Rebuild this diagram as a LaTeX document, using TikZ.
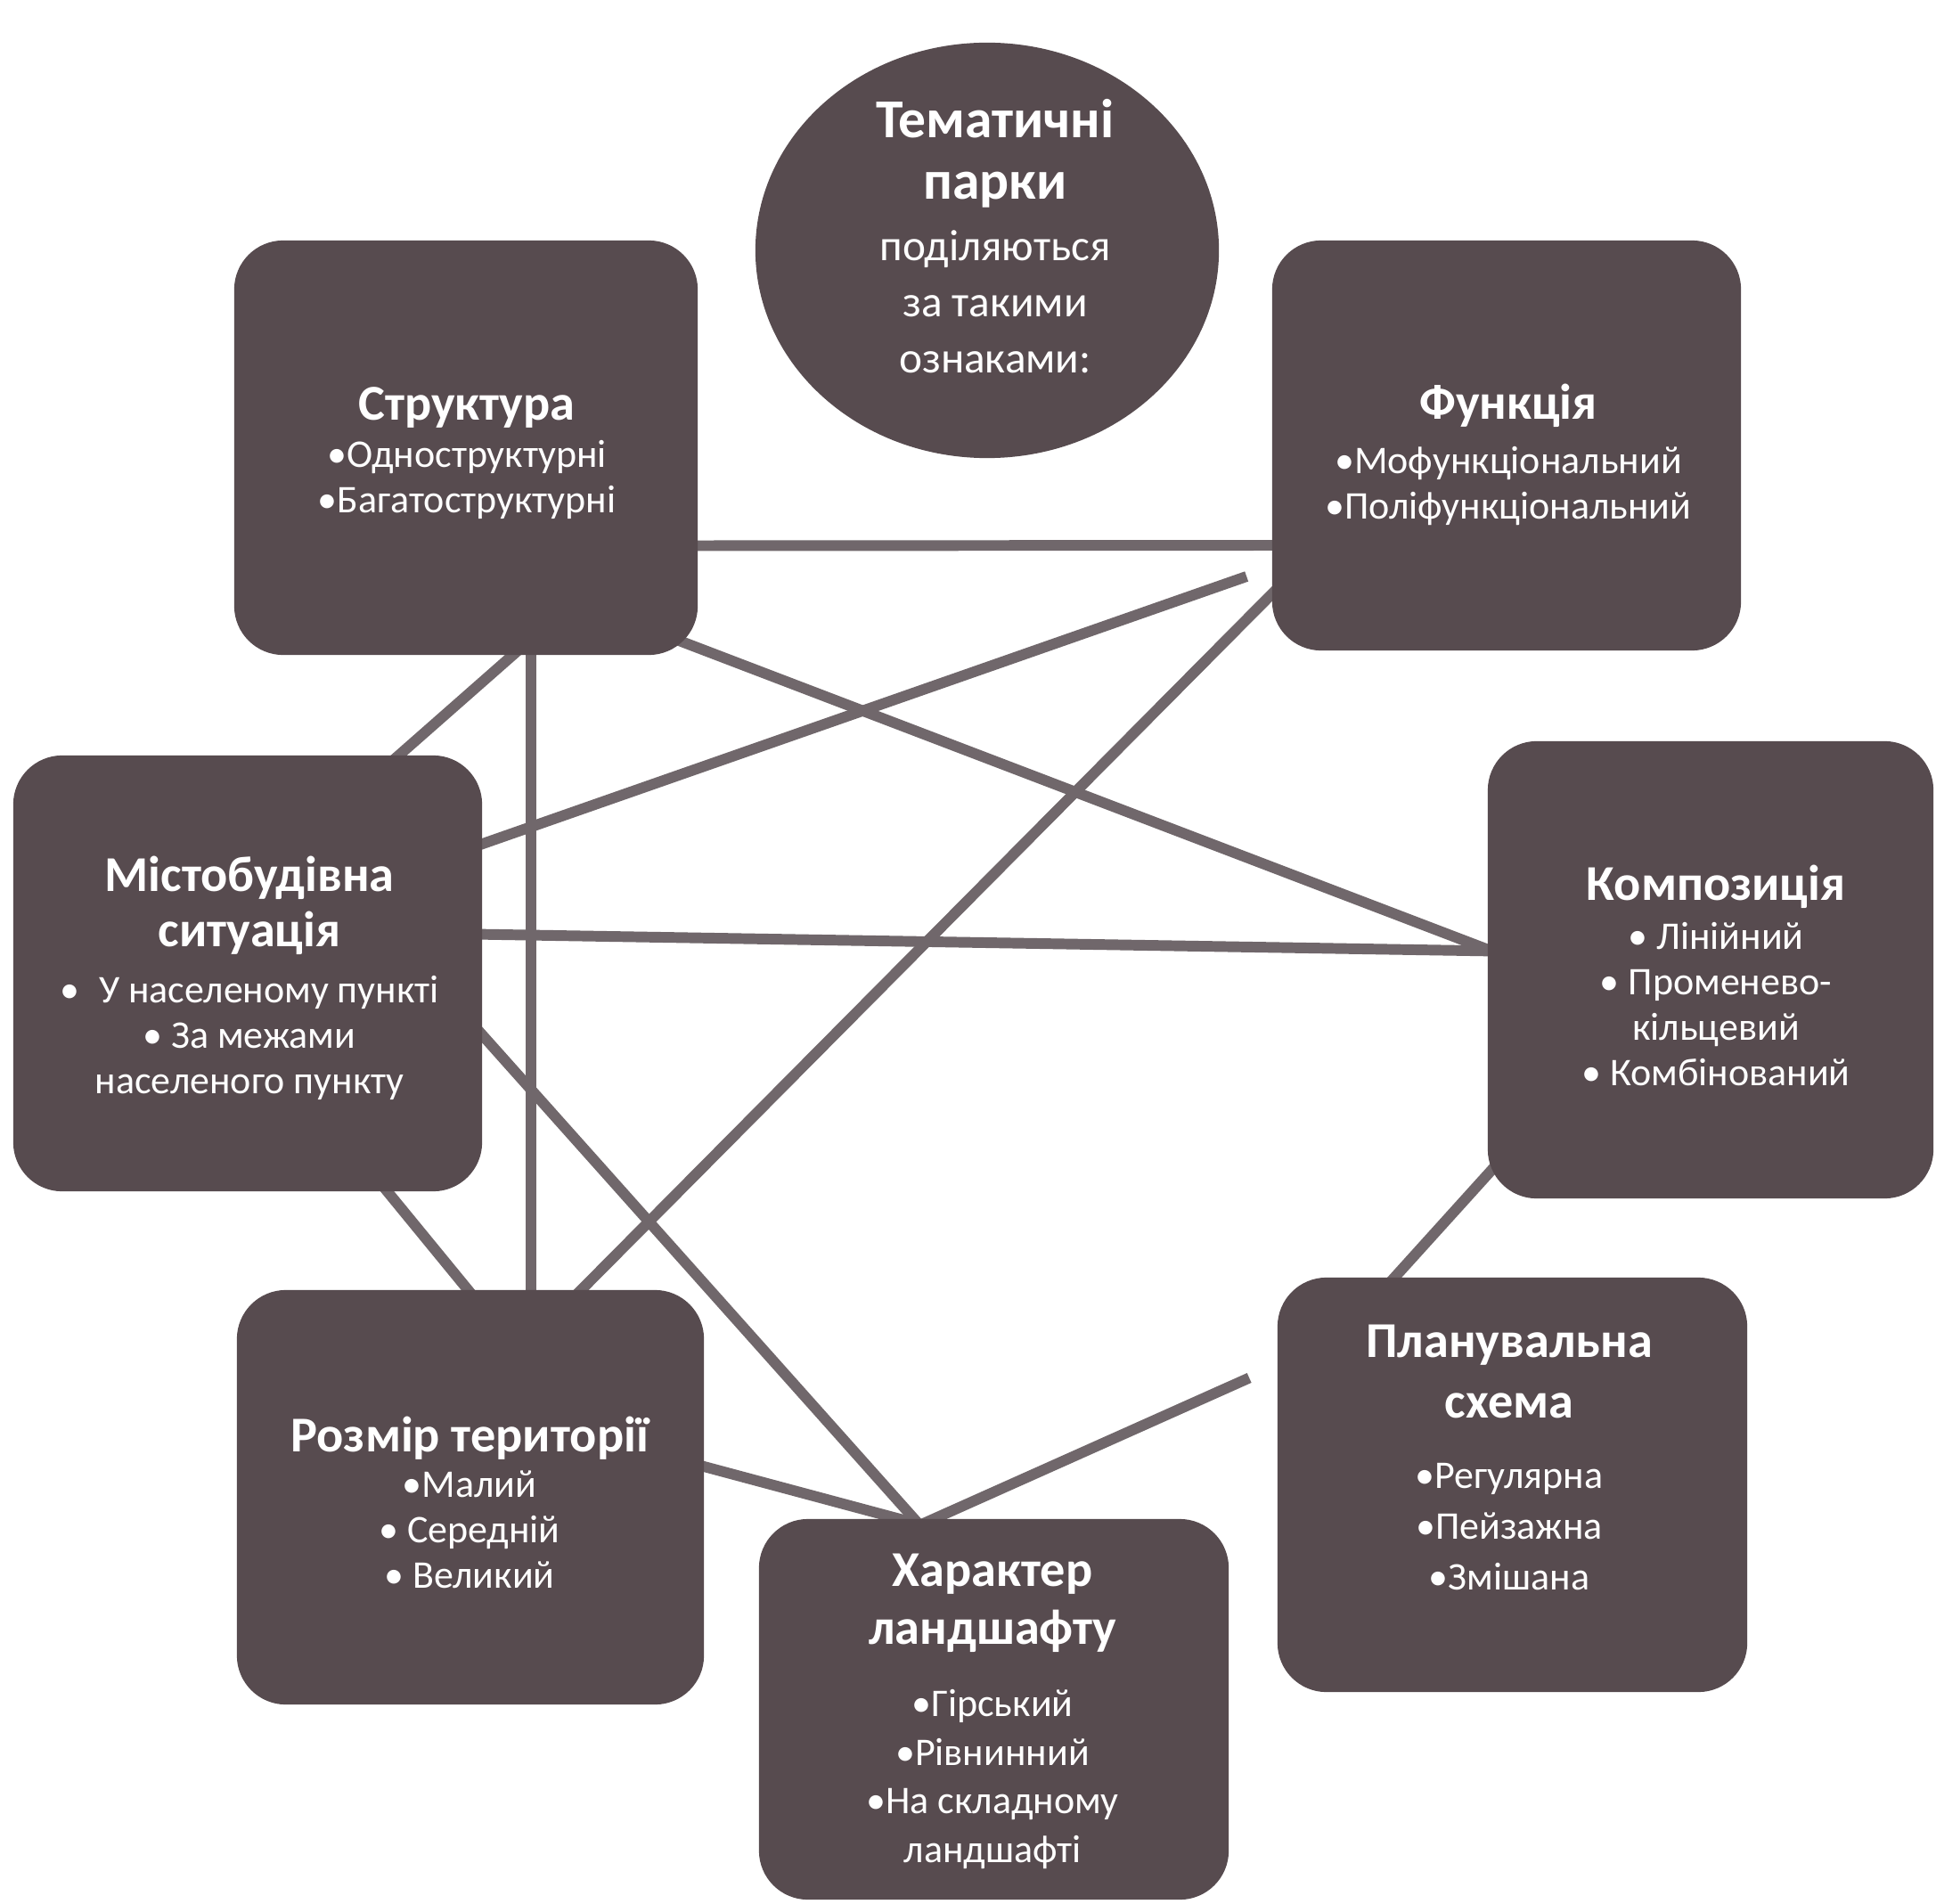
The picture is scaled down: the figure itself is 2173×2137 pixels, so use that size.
\documentclass[tikz,border=0pt]{standalone}
\usepackage{fontspec}
\setmainfont{Carlito}
\usetikzlibrary{calc,backgrounds,shapes.geometric}
\definecolor{boxc}{HTML}{574B4F}
\definecolor{linec}{HTML}{70676B}
\newcommand\hdtext{\fontsize{16}{17.6}\selectfont\bfseries}
\newcommand\itemfont{\fontsize{12.5}{14.5}\selectfont}
\newcommand\circtitle{\fontsize{17.5}{19.6}\selectfont\bfseries}
\newcommand\circfont{\fontsize{14}{17.9}\selectfont}
\begin{document}
\begin{tikzpicture}[x=0.01cm,y=-0.01cm,
  box/.style 2 args={fill=boxc, rounded corners=0.55cm, minimum width=#1, minimum height=#2, inner sep=0pt},
  lbl/.style={text=white, align=center, inner sep=0pt, font=\itemfont},
  link/.style={draw=linec, line width=3.4pt}]
\useasboundingbox (0,0) rectangle (2173,2137);

% central ellipse
\node[ellipse, fill=boxc, minimum width=5.2cm, minimum height=4.66cm, inner sep=0pt] (C) at (1108,281) {};
\node[lbl, font=\circfont] (Ct) at (1117,265) {{\circtitle Тематичні}\\[1.7pt]{\circtitle парки}\\[1.7pt]поділяються\\за такими\\ознаками:};

% boxes
\node[box={5.2cm}{4.65cm}] (S) at (523,502.5) {};
\node[box={5.26cm}{4.6cm}] (F) at (1691,500) {};
\node[box={5.26cm}{4.89cm}] (M) at (278,1092.5) {};
\node[box={5.0cm}{5.13cm}] (K) at (1920,1088.5) {};
\node[box={5.24cm}{4.65cm}] (R) at (528,1680.5) {};
\node[box={5.27cm}{4.27cm}] (H) at (1115.5,1918.5) {};
\node[box={5.27cm}{4.65cm}] (P) at (1697.5,1666.5) {};

% texts
\node[lbl] (St) at (524,509) {{\hdtext Структура}\\[0.6pt]•Одноструктурні\\•Багатоструктурні};
\node[lbl] (Ft) at (1693,510) {{\hdtext Функція}\\[2.9pt]•Мофункціональний\\•Поліфункціональний};
\node[lbl] (Mt) at (280,1098) {{\hdtext Містобудівна}\\[3.1pt]{\hdtext ситуація}\\[3.4pt]•\enspace У населеному пункті\\• За межами\\населеного пункту};
\node[lbl] (Kt) at (1926,1095) {{\hdtext Композиція}\\[1.1pt]• Лінійний\\• Променево-\\кільцевий\\• Комбінований};
\node[lbl] (Rt) at (527,1686) {{\hdtext Розмір території}\\•Малий\\• Середній\\• Великий};
\node[lbl] (Ht) at (1114,1921) {{\hdtext Характер}\\[4pt]{\hdtext ландшафту}\\[8.5pt]•Гірський\\[1pt]•Рівнинний\\[1pt]•На складному\\[1pt]ландшафті};
\node[lbl] (Pt) at (1694,1636) {{\hdtext Планувальна}\\[5pt]{\hdtext схема}\\[8pt]•Регулярна\\[1.7pt]•Пейзажна\\[1.7pt]•Змішана};

% connectors (behind the boxes)
\begin{scope}[on background layer]
\fill[white] (0,0) rectangle (2173,2137);
\draw[link] ($(S.east)+(-10,110)$) -- ($(F.west)+(10,112)$);
\draw[link] ($(S.south east)+(-30,-20)$) -- ($(K.west)+(8,-20)$);
\draw[link] ($(S.south)+(73,-10)$) -- ($(R.north)+(68,10)$);
\draw[link] ($(S.south)+(61,-8)$) -- ($(M.north)+(159,10)$);
\draw[link] ($(F.west)+(-28,147)$) -- ($(M.east)+(-10,-142)$);
\draw[link] ($(F.west)+(11,156)$) -- ($(R.north)+(115,10)$);
\draw[link] ($(M.east)+(-10,-44)$) -- ($(K.west)+(10,-21)$);
\draw[link] ($(M.east)+(-10,58.5)$) -- ($(H.north)+(-81,10)$);
\draw[link] ($(M.south)+(149,-10)$) -- ($(R.north)+(5,10)$);
\draw[link] ($(R.east)+(-10,-37)$) -- ($(H.north)+(-86,6)$);
\draw[link] ($(K.south west)+(14,-42.5)$) -- ($(P.north)+(-138.5,7.5)$);
\draw[link] ($(P.west)+(-31,-120)$) -- ($(H.north)+(-84,8)$);
\end{scope}
\end{tikzpicture}
\end{document}
